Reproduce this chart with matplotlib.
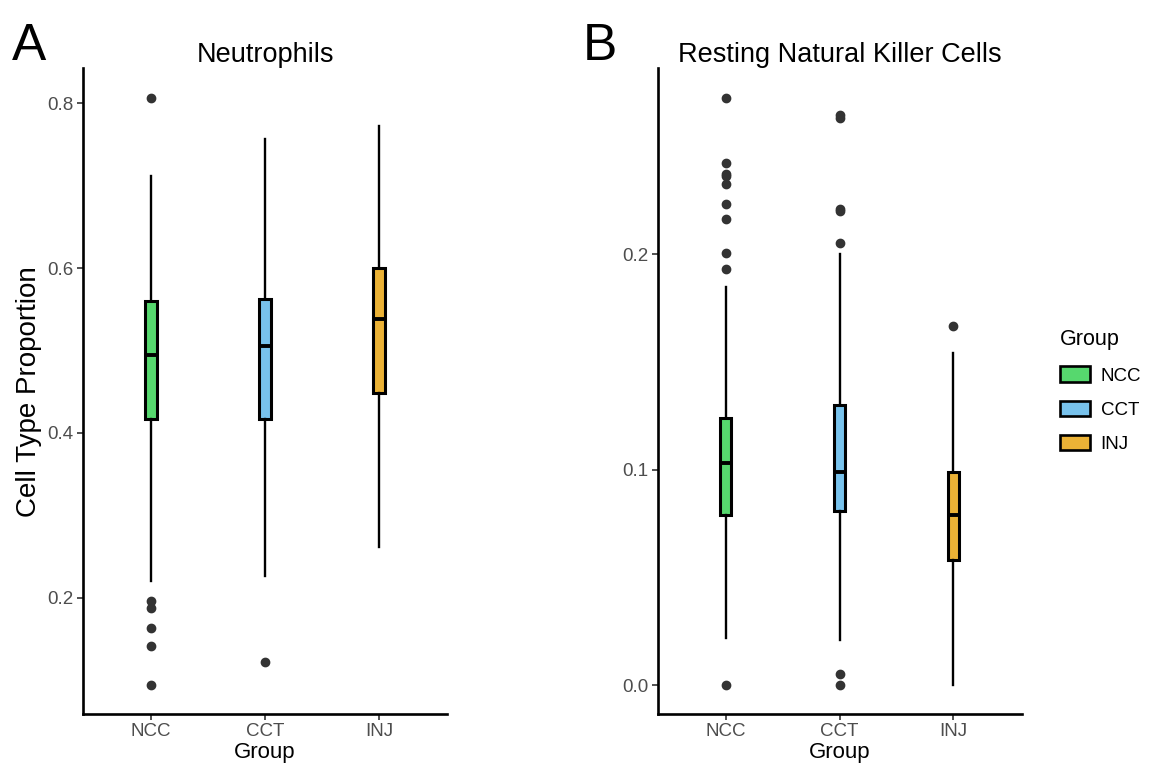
import matplotlib
matplotlib.use("Agg")
import matplotlib.pyplot as plt
from matplotlib.patches import Patch

plt.rcParams['font.family'] = ['Liberation Sans', 'DejaVu Sans']

groups = ["NCC", "CCT", "INJ"]
colors = ["#56D86E", "#78C2EC", "#EBB236"]

# Panel A: Neutrophils
neu_q1 = [0.417, 0.417, 0.448]
neu_med = [0.495, 0.505, 0.538]
neu_q3 = [0.560, 0.562, 0.600]
neu_lo = [0.220, 0.226, 0.262]
neu_hi = [0.712, 0.757, 0.772]
neu_fliers = [[0.806, 0.196, 0.187, 0.163, 0.141, 0.094], [0.122], []]

# Panel B: Resting Natural Killer Cells
nk_q1 = [0.079, 0.081, 0.058]
nk_med = [0.103, 0.099, 0.079]
nk_q3 = [0.124, 0.130, 0.099]
nk_lo = [0.022, 0.021, 0.0]
nk_hi = [0.185, 0.200, 0.154]
nk_fliers = [[0.2724, 0.2422, 0.2371, 0.2365, 0.2328, 0.2235, 0.2165, 0.2007, 0.1933, 0.0],
             [0.2646, 0.2631, 0.2210, 0.2202, 0.2051, 0.0054, 0.0],
             [0.1667]]

W, H = 1151, 772
fig = plt.figure(figsize=(W/100, H/100), dpi=100)

def px(l, t, r, b):
    return [l/W, 1-b/H, (r-l)/W, (b-t)/H]

axA = fig.add_axes(px(82.7, 68, 447.4, 714.3))
axB = fig.add_axes(px(657.5, 68, 1021.7, 714.3))

def draw(ax, q1, med, q3, lo, hi, fl, ylim, yticks, title):
    stats = []
    for i in range(3):
        stats.append(dict(med=med[i], q1=q1[i], q3=q3[i], whislo=lo[i], whishi=hi[i], fliers=fl[i], label=groups[i]))
    bp = ax.bxp(stats, positions=[1, 2, 3], widths=0.1, patch_artist=True, showcaps=False,
                boxprops=dict(linewidth=2.2, edgecolor='black'),
                medianprops=dict(color='black', linewidth=2.8),
                whiskerprops=dict(color='black', linewidth=1.7),
                flierprops=dict(marker='o', markerfacecolor='#333333', markeredgecolor='#333333', markersize=6))
    for p, c in zip(bp['boxes'], colors):
        p.set_facecolor(c)
    ax.set_xlim(0.4, 3.6)
    ax.set_ylim(*ylim)
    ax.set_yticks(yticks)
    ax.set_yticklabels([f"{t:.1f}" for t in yticks])
    ax.set_xticks([1, 2, 3])
    ax.set_xticklabels(groups)
    for s in ['top', 'right']:
        ax.spines[s].set_visible(False)
    for s in ['left', 'bottom']:
        ax.spines[s].set_linewidth(1.9)
    ax.tick_params(axis='both', length=4, width=1.2, colors='#333333', labelsize=13.5, labelcolor='#4D4D4D', pad=2.5)
    ax.set_xlabel("Group", fontsize=16, labelpad=1)
    ax.set_title(title, fontsize=19.5, pad=4)

draw(axA, neu_q1, neu_med, neu_q3, neu_lo, neu_hi, neu_fliers, (0.0584, 0.843), [0.2, 0.4, 0.6, 0.8], "Neutrophils")
draw(axB, nk_q1, nk_med, nk_q3, nk_lo, nk_hi, nk_fliers, (-0.01346, 0.2864), [0.0, 0.1, 0.2], "Resting Natural Killer Cells")
axA.set_ylabel("Cell Type Proportion", fontsize=20, labelpad=4)

fig.text(12/W, 1-60/H, "A", fontsize=37, ha='left', va='baseline')
fig.text(583/W, 1-60/H, "B", fontsize=37, ha='left', va='baseline')

handles = [Patch(facecolor=c, edgecolor='black', linewidth=1.9, label=g) for g, c in zip(groups, colors)]
leg = fig.legend(handles=handles, title="Group", loc='upper left', bbox_to_anchor=(1052/W, 1-322/H),
                 frameon=False, fontsize=13.5, title_fontsize=15.5, handlelength=1.6, handleheight=0.9,
                 labelspacing=0.85, handletextpad=0.6, borderaxespad=0)
leg._legend_box.align = "left"

fig.savefig("out.png", dpi=100)
